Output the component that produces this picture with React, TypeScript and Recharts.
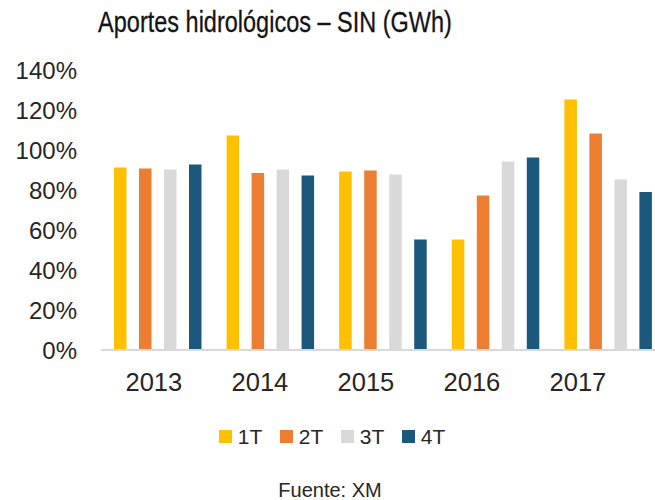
import React from 'react'
import { BarChart, Bar, XAxis, YAxis, Legend } from 'recharts'

const years = ['2013', '2014', '2015', '2016', '2017']
const q1 = [91.3, 107.3, 89.2, 55.2, 125.2]
const q2 = [90.7, 88.5, 89.8, 77.2, 108.3]
const q3 = [90.2, 90.3, 87.8, 94.2, 85.2]
const q4 = [92.8, 87.2, 55.3, 96.2, 79]
const yTicks = [0, 20, 40, 60, 80, 100, 120, 140]

const series = [
  { key: 'q1', name: '1T', color: '#FFC000' },
  { key: 'q2', name: '2T', color: '#ED7D31' },
  { key: 'q3', name: '3T', color: '#D9D9D9' },
  { key: 'q4', name: '4T', color: '#1B587C' },
]

const data = years.map((y, i) => ({ year: y, q1: q1[i], q2: q2[i], q3: q3[i], q4: q4[i] }))

const font = '"Liberation Sans", Arial, sans-serif'

// year labels in the original sit a bit tighter than the bar groups
const YearTick = (props: any) => {
  const { x, y, payload } = props
  const lx = 5.8 + 0.9414 * x
  return (
    <text x={lx} y={y} dy="0.71em" textAnchor="middle" fontSize={25.5} fontFamily={font} fill="#262626">
      {payload.value}
    </text>
  )
}

const LegendBox = (props: any) => {
  const { payload } = props
  return (
    <div style={{ height: 52, display: 'flex', justifyContent: 'center', alignItems: 'center', fontFamily: font }}>
      {payload.map((p: any, i: number) => (
        <div key={i} style={{ display: 'flex', alignItems: 'center', marginRight: i < payload.length - 1 ? 17.5 : 0 }}>
          <span style={{ width: 13, height: 13, background: p.color, display: 'inline-block', marginRight: 6 }} />
          <span style={{ fontSize: 21, color: '#262626', lineHeight: '21px' }}>{p.value}</span>
        </div>
      ))}
    </div>
  )
}

const App = () => {
  return (
    <div style={{ position: 'absolute', left: 0, top: 0, width: 655, height: 500, overflow: 'hidden', background: '#fff' }}>
      <div
        style={{
          position: 'absolute', left: 0, top: 8, width: 550, textAlign: 'center', whiteSpace: 'nowrap',
          fontFamily: font, fontSize: 29, lineHeight: '29px', color: '#141414',
          transform: 'scaleX(0.81)', transformOrigin: '275px 0', WebkitTextStroke: '0.3px #141414',
        }}
      >
        Aportes hidrológicos – SIN (GWh)
      </div>
      <BarChart
        width={670}
        height={500}
        data={data}
        margin={{ top: 70, right: 6, left: 0, bottom: 38 }}
        barSize={12.5}
        barGap={12.5}
        style={{ position: 'absolute', left: 0, top: 0 }}
      >
        <XAxis
          dataKey="year"
          axisLine={{ stroke: '#D9D9D9', strokeWidth: 2 }}
          tickLine={false}
          tickSize={0}
          tickMargin={23}
          height={60}
          tick={<YearTick />}
        />
        <YAxis
          domain={[0, 140]}
          ticks={yTicks}
          width={101}
          axisLine={false}
          tickLine={false}
          tickSize={0}
          tickMargin={24}
          tickFormatter={(v) => `${v}%`}
          tick={{ fontSize: 24, fontFamily: font, fill: '#262626' }}
        />
        <Legend verticalAlign="bottom" content={<LegendBox />} />
        {series.map((s) => (
          <Bar key={s.key} dataKey={s.key} name={s.name} fill={s.color} isAnimationActive={false} />
        ))}
      </BarChart>
      <div
        style={{
          position: 'absolute', left: 230, top: 479.5, width: 200, textAlign: 'center',
          fontFamily: font, fontSize: 20, lineHeight: '20px', color: '#262626',
        }}
      >
        Fuente: XM
      </div>
    </div>
  )
}

export default App
